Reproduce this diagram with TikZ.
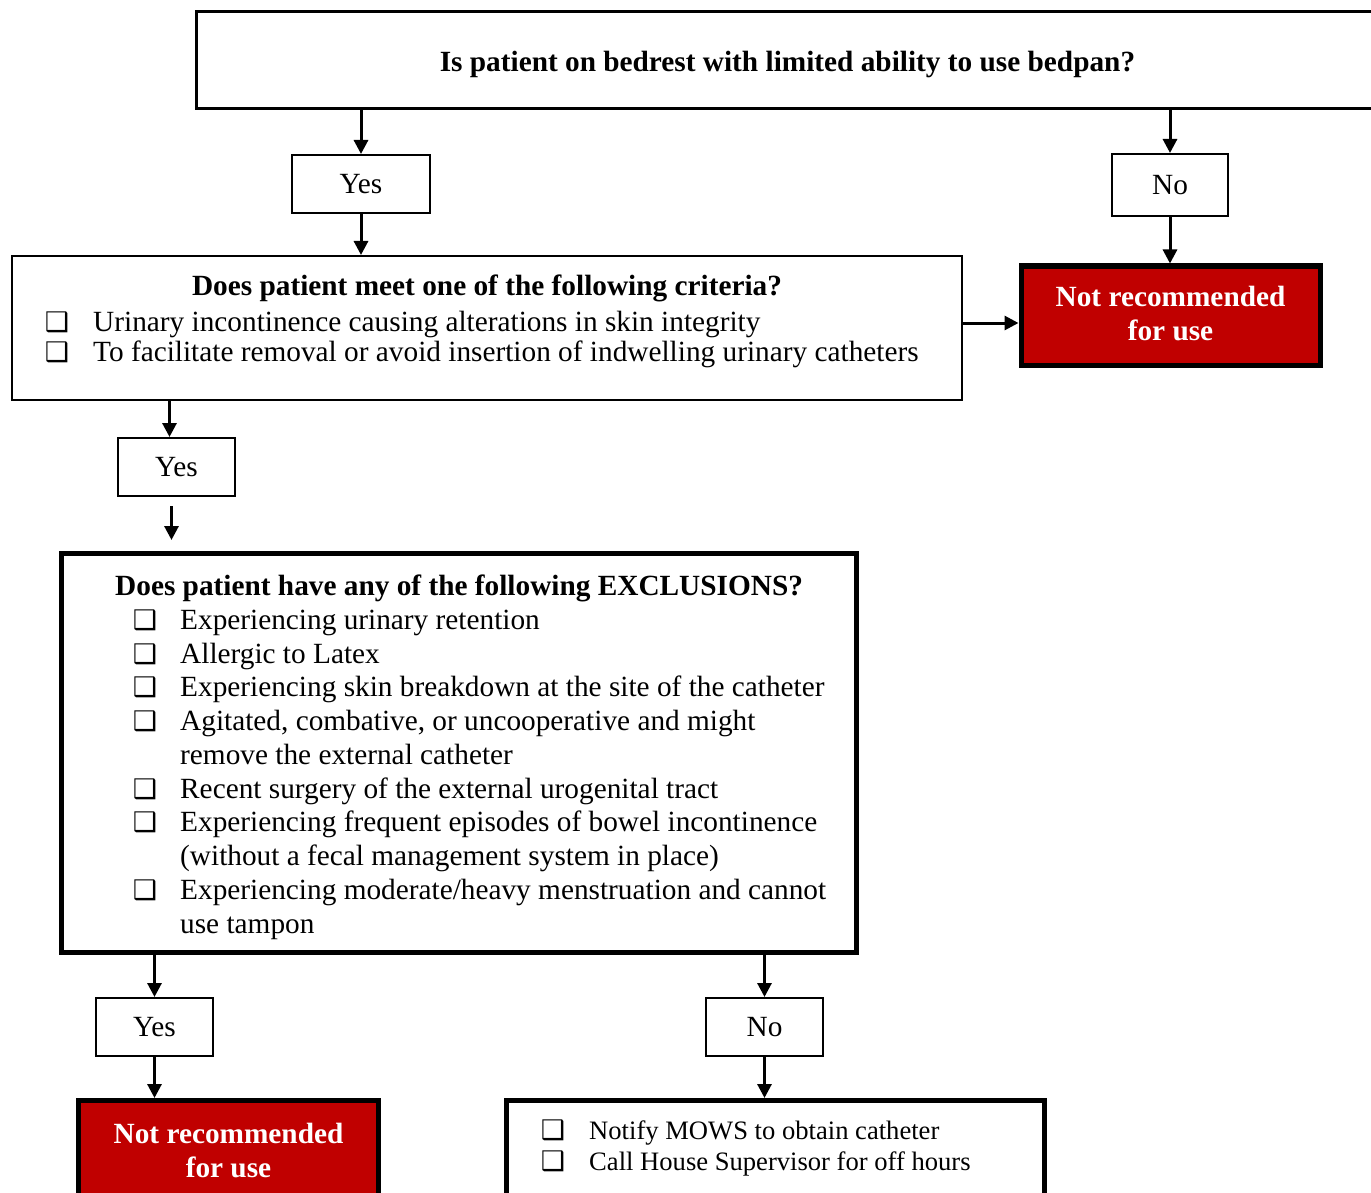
\documentclass[tikz,border=0pt]{standalone}
\usepackage{fontspec}
\setmainfont{Liberation Serif}
\newfontfamily\dejavu{DejaVu Sans Bold}
\usetikzlibrary{arrows.meta}
\definecolor{alertred}{HTML}{C00000}
\tikzset{
  thinbox/.style={draw=black, line width=2pt, fill=white, inner sep=0pt},
  thickbox/.style={draw=black, line width=5pt, fill=white, inner sep=0pt},
  redbox/.style={draw=black, line width=5pt, fill=alertred, inner sep=0pt},
  redtext/.style={text=white, inner sep=0pt, font=\bfseries\fontsize{29.3}{34}\selectfont, align=center},
  answer/.style={thinbox, font=\fontsize{29.3}{30}\selectfont},
  body/.style={font=\fontsize{29.3}{30}\selectfont, inner sep=0pt, anchor=base west},
  bodysm/.style={font=\fontsize{26.6}{30}\selectfont, inner sep=0pt, anchor=base west},
  heading/.style={font=\bfseries\fontsize{29.3}{30}\selectfont, inner sep=0pt, anchor=base},
  cbox/.style={font=\dejavu\fontsize{27}{30}\selectfont, inner sep=0pt, anchor=base},
  flow/.style={line width=3pt, -{Triangle[width=14pt,length=14pt]}}
}
\begin{document}
\begin{tikzpicture}[x=1pt,y=-1pt]
\useasboundingbox (0,0) rectangle (1371,1193);
\clip (0,0) rectangle (1371,1193);

% top question
\node[draw=black, line width=3pt, inner sep=0pt, minimum width=1183pt, minimum height=97pt] (top) at (787.5,60.5) {};
\node[heading] (toph) at (787.5,72) {Is patient on bedrest with limited ability to use bedpan?};

\node[answer, minimum width=138pt, minimum height=58pt] (yes1) at (361,184) {Yes};
\node[answer, minimum width=116pt, minimum height=62pt] (no1) at (1170,185) {No};

\node[redbox, minimum width=299pt, minimum height=99pt] (red1) at (1170.5,315.5) {};
\node[redtext] (red1t) at (1170.5,313.5) {Not recommended\\for use};

% criteria box
\node[thinbox, minimum width=950pt, minimum height=144pt] (crit) at (487,328) {};
\node[heading] (crith) at (487,295) {Does patient meet one of the following criteria?};
\node[cbox] (cc1) at (57,331) {❑};
\node[body] (ct1) at (93,331) {Urinary incontinence causing alterations in skin integrity};
\node[cbox] (cc2) at (57,361) {❑};
\node[body] (ct2) at (93,361) {To facilitate removal or avoid insertion of indwelling urinary catheters};

\node[answer, minimum width=117pt, minimum height=58pt] (yes2) at (176.5,467) {Yes};

% exclusions box
\node[thickbox, minimum width=795pt, minimum height=399pt] (excl) at (459,753) {};
\node[heading, anchor=base west] (exh) at (115,595) {Does patient have any of the following EXCLUSIONS?};
\node[cbox] (ec1) at (145,629) {❑};
\node[body] (et1) at (180,629) {Experiencing urinary retention};
\node[cbox] (ec2) at (145,663) {❑};
\node[body] (et2) at (180,663) {Allergic to Latex};
\node[cbox] (ec3) at (145,696) {❑};
\node[body] (et3) at (180,696) {Experiencing skin breakdown at the site of the catheter};
\node[cbox] (ec4) at (145,730) {❑};
\node[body] (et4) at (180,730) {Agitated, combative, or uncooperative and might};
\node[body] (et4b) at (180,764) {remove the external catheter};
\node[cbox] (ec5) at (145,798) {❑};
\node[body] (et5) at (180,798) {Recent surgery of the external urogenital tract};
\node[cbox] (ec6) at (145,831) {❑};
\node[body] (et6) at (180,831) {Experiencing frequent episodes of bowel incontinence};
\node[body] (et6b) at (180,865) {(without a fecal management system in place)};
\node[cbox] (ec7) at (145,899) {❑};
\node[body] (et7) at (180,899) {Experiencing moderate/heavy menstruation and cannot};
\node[body] (et7b) at (180,933) {use tampon};

\node[answer, minimum width=117pt, minimum height=58pt] (yes3) at (154.5,1027) {Yes};
\node[answer, minimum width=117pt, minimum height=58pt] (no2) at (764.5,1027) {No};

\node[redbox, minimum width=300pt, minimum height=99pt] (red2) at (228.5,1150) {};
\node[redtext] (red2t) at (228.5,1151) {Not recommended\\for use};

% final box
\node[thickbox, minimum width=538pt, minimum height=130pt] (final) at (775.5,1165.5) {};
\node[cbox] (fc1) at (553,1139) {❑};
\node[bodysm] (ft1) at (589,1139) {Notify MOWS to obtain catheter};
\node[cbox] (fc2) at (553,1170) {❑};
\node[bodysm] (ft2) at (589,1170) {Call House Supervisor for off hours};

% connectors
\draw[flow] (yes1.north |- top.south) -- (yes1.north);
\draw[flow] (yes1.south) -- (yes1.south |- crit.north);
\draw[flow] (no1.north |- top.south) -- (no1.north);
\draw[flow] (no1.south) -- (no1.south |- red1.north);
\draw[flow] ([yshift=5pt]crit.east) -- ([yshift=5pt]crit.east -| red1.west);
\draw[flow] ([xshift=-7pt]yes2.north |- crit.south) -- ([xshift=-7pt]yes2.north);
\draw[flow, shorten <=9pt, shorten >=11pt] ([xshift=-5pt]yes2.south) -- ([xshift=-5pt]yes2.south |- excl.north);
\draw[flow] (yes3.north |- excl.south) -- (yes3.north);
\draw[flow] (yes3.south) -- (yes3.south |- red2.north);
\draw[flow] (no2.north |- excl.south) -- (no2.north);
\draw[flow] (no2.south) -- (no2.south |- final.north);
\end{tikzpicture}
\end{document}
